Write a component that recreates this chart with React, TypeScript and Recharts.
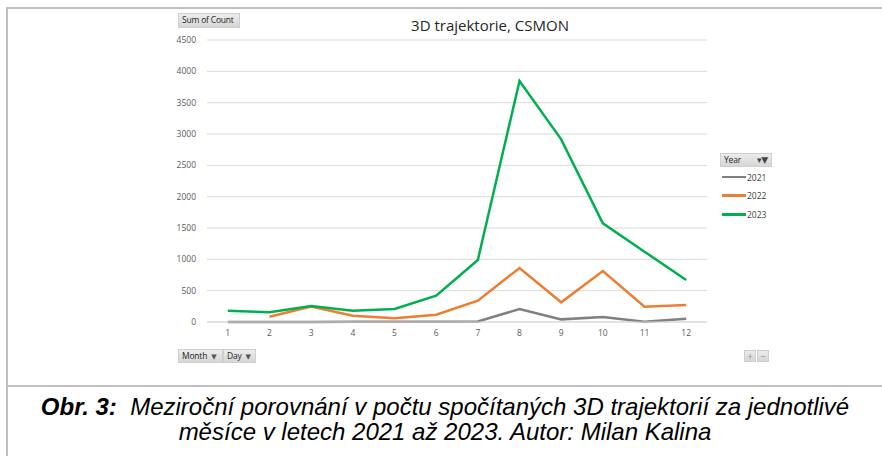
import React from 'react';
import { LineChart, Line, XAxis, YAxis, CartesianGrid } from 'recharts';

const months = [1, 2, 3, 4, 5, 6, 7, 8, 9, 10, 11, 12];
const y2021 = [0, 0, 2, 3, 3, 5, 8, 207, 42, 80, 5, 53];
const y2022 = [null, 85, 245, 100, 58, 117, 340, 862, 314, 814, 245, 271];
const y2023 = [180, 155, 255, 180, 207, 420, 990, 3846, 2915, 1575, 1122, 670];
const yTicks = [0, 500, 1000, 1500, 2000, 2500, 3000, 3500, 4000, 4500];

const series = [
    { key: '2021', color: '#808080' },
    { key: '2022', color: '#ed7d31' },
    { key: '2023', color: '#00b050' },
];

const data = months.map((m, i) => ({ month: m, '2021': y2021[i], '2022': y2022[i], '2023': y2023[i] }));

const font = '"Open Sans", "DejaVu Sans", sans-serif';

const btn: React.CSSProperties = {
    position: 'absolute',
    background: 'linear-gradient(#ececec, #d6d6d6)',
    border: '1px solid #cfcfcf',
    fontFamily: font,
    fontSize: 8.5,
    letterSpacing: -0.2,
    whiteSpace: 'nowrap',
    color: '#262626',
    boxSizing: 'border-box',
    lineHeight: '12px',
    paddingLeft: 3,
};

const Arrow = () => <span style={{ fontSize: 7, color: '#555', marginLeft: 4 }}>▼</span>;

export default function App() {
    return (
        <div style={{ position: 'absolute', left: 0, top: 0, width: 882, height: 456, background: '#fff', overflow: 'hidden' }}>
            {/* frame */}
            <div style={{ position: 'absolute', left: 6, top: 7, width: 876, height: 2, background: '#bfbfbf' }} />
            <div style={{ position: 'absolute', left: 6, top: 7, width: 2, height: 449, background: '#bfbfbf' }} />
            <div style={{ position: 'absolute', left: 6, top: 385, width: 876, height: 2, background: '#bfbfbf' }} />

            <LineChart
                width={882}
                height={456}
                data={data}
                margin={{ top: 40, right: 175, left: 0, bottom: 104 }}
                style={{ position: 'absolute', left: 0, top: 0 }}
            >
                <CartesianGrid vertical={false} stroke="#d9d9d9" />
                <XAxis
                    dataKey="month"
                    height={30}
                    padding={{ left: 20.8, right: 20.8 }}
                    tickLine={false}
                    tickSize={0}
                    tickMargin={8}
                    axisLine={{ stroke: '#d9d9d9' }}
                    tick={{ fontSize: 8.5, fill: '#595959', fontFamily: font }}
                />
                <YAxis
                    width={207}
                    domain={[0, 4500]}
                    ticks={yTicks}
                    axisLine={false}
                    tickLine={false}
                    tickSize={0}
                    tickMargin={11}
                    tick={{ fontSize: 8.5, fill: '#595959', fontFamily: font }}
                />
                {series.map((s) => (
                    <Line
                        key={s.key}
                        dataKey={s.key}
                        stroke={s.color}
                        strokeWidth={2.5}
                        dot={false}
                        type="linear"
                        isAnimationActive={false}
                    />
                ))}
            </LineChart>

            <div style={{ position: 'absolute', left: 300, width: 380, top: 15, textAlign: 'center', fontFamily: font, fontSize: 15, color: '#262626' }}>
                3D trajektorie, CSMON
            </div>

            <div style={{ ...btn, left: 178, top: 13, width: 62, height: 15 }}>Sum of Count</div>

            <div style={{ ...btn, left: 720, top: 153, width: 52, height: 14 }}>
                Year
                <span style={{ position: 'absolute', right: 3, top: 0, fontSize: 9, color: '#444' }}>▾▼</span>
            </div>
            {series.map((s, i) => (
                <div key={s.key} style={{ position: 'absolute', left: 722, top: 171 + i * 18.7, height: 12, display: 'flex', alignItems: 'center', fontFamily: font, fontSize: 8.5, color: '#404040' }}>
                    <span style={{ display: 'inline-block', width: 24, height: 2.5, background: s.color, marginRight: 1 }} />
                    {s.key}
                </div>
            ))}

            <div style={{ ...btn, left: 178, top: 349, width: 45, height: 14 }}>Month<Arrow /></div>
            <div style={{ ...btn, left: 223, top: 349, width: 33, height: 14 }}>Day<Arrow /></div>

            <div style={{ ...btn, left: 744, top: 350, width: 12, height: 12, paddingLeft: 0, textAlign: 'center', color: '#999', fontSize: 10, lineHeight: '11px' }}>+</div>
            <div style={{ ...btn, left: 757, top: 350, width: 12, height: 12, paddingLeft: 0, textAlign: 'center', color: '#999', fontSize: 10, lineHeight: '11px' }}>−</div>

            <div style={{ position: 'absolute', left: 8, width: 874, top: 394, textAlign: 'center', fontFamily: '"Liberation Sans", Arial, sans-serif', fontStyle: 'italic', fontSize: 24, lineHeight: '25px', color: '#000', whiteSpace: 'nowrap' }}>
                <b>Obr. 3:</b>&nbsp; Meziroční porovnání v počtu spočítaných 3D trajektorií za jednotlivé
                <br />
                měsíce v letech 2021 až 2023. Autor: Milan Kalina
            </div>
        </div>
    );
}
